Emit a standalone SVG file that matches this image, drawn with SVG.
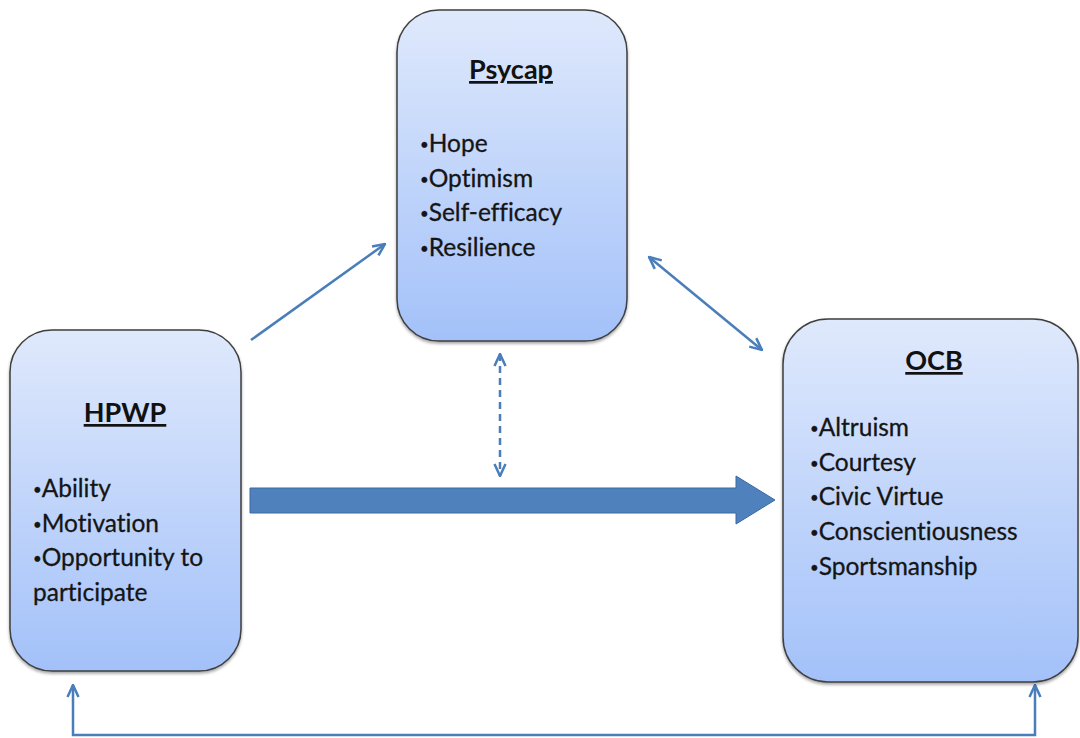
<svg xmlns="http://www.w3.org/2000/svg" width="1080" height="738" viewBox="0 0 1080 738">
  <defs>
    <linearGradient id="boxFill" x1="0" y1="0" x2="0" y2="1">
      <stop offset="0" stop-color="#dfe9fc"/>
      <stop offset="1" stop-color="#a3c1f9"/>
    </linearGradient>
    <filter id="shadow" x="-10%" y="-10%" width="120%" height="120%">
      <feDropShadow dx="0" dy="2" stdDeviation="1.5" flood-color="#000" flood-opacity="0.35"/>
    </filter>
    <marker id="open" viewBox="0 0 14 14" refX="13" refY="7" markerWidth="14" markerHeight="14" markerUnits="userSpaceOnUse" orient="auto-start-reverse">
      <path d="M1,1.5 L13,7 L1,12.5" fill="none" stroke="#4a7ebb" stroke-width="2.5"/>
    </marker>
  </defs>
  <style>
    .box { fill: url(#boxFill); stroke: #3f3f3f; stroke-width: 1.5; filter: url(#shadow); }
    .title { font-family: "Lato", "Open Sans", "Liberation Sans", sans-serif; font-size: 27px; font-weight: bold; text-decoration: underline; fill: #111; }
    .item { font-family: "Lato", "Open Sans", "Liberation Sans", sans-serif; font-size: 24.5px; fill: #151515; font-variant-ligatures: none; stroke: #151515; stroke-width: 0.3; }
    .b { font-size: 15px; baseline-shift: 2px; }
    .conn { fill: none; stroke: #4a7ebb; stroke-width: 2.5; }
  </style>
  <rect width="1080" height="738" fill="#fff"/>

  <g id="connectors">
    <line class="conn" x1="251" y1="340" x2="385" y2="244" marker-end="url(#open)"/>
    <line class="conn" x1="649" y1="257" x2="762" y2="350" marker-start="url(#open)" marker-end="url(#open)"/>
    <line class="conn" x1="500" y1="354" x2="500" y2="476" stroke-dasharray="7,5" marker-start="url(#open)" marker-end="url(#open)"/>
    <path d="M250,488 L736,488 L736,476 L775,500 L736,524 L736,513 L250,513 Z" fill="#4f81bd" stroke="#3b6aa3" stroke-width="1"/>
    <path class="conn" d="M73,685 L73,735 L1035,735 L1035,685" stroke-width="3" marker-start="url(#open)" marker-end="url(#open)"/>
  </g>

  <g id="psycap">
    <rect class="box" x="397" y="10" width="230" height="331" rx="42"/>
    <text class="title" x="511" y="79" text-anchor="middle">Psycap</text>
    <text class="item" x="420" y="152"><tspan class="b">•</tspan>Hope</text>
    <text class="item" x="420" y="187"><tspan class="b">•</tspan>Optimism</text>
    <text class="item" x="420" y="221"><tspan class="b">•</tspan>Self-efficacy</text>
    <text class="item" x="420" y="256"><tspan class="b">•</tspan>Resilience</text>
  </g>

  <g id="hpwp">
    <rect class="box" x="10" y="330" width="231" height="341" rx="42"/>
    <text class="title" x="125" y="422" text-anchor="middle">HPWP</text>
    <text class="item" x="33" y="497"><tspan class="b">•</tspan>Ability</text>
    <text class="item" x="33" y="532"><tspan class="b">•</tspan>Motivation</text>
    <text class="item" x="33" y="566"><tspan class="b">•</tspan>Opportunity to</text>
    <text class="item" x="33" y="601">participate</text>
  </g>

  <g id="ocb">
    <rect class="box" x="783" y="319" width="295" height="363" rx="45"/>
    <text class="title" x="934" y="370" text-anchor="middle">OCB</text>
    <text class="item" x="810" y="436"><tspan class="b">•</tspan>Altruism</text>
    <text class="item" x="810" y="471"><tspan class="b">•</tspan>Courtesy</text>
    <text class="item" x="810" y="505"><tspan class="b">•</tspan>Civic Virtue</text>
    <text class="item" x="810" y="540"><tspan class="b">•</tspan>Conscientiousness</text>
    <text class="item" x="810" y="575"><tspan class="b">•</tspan>Sportsmanship</text>
  </g>
</svg>
